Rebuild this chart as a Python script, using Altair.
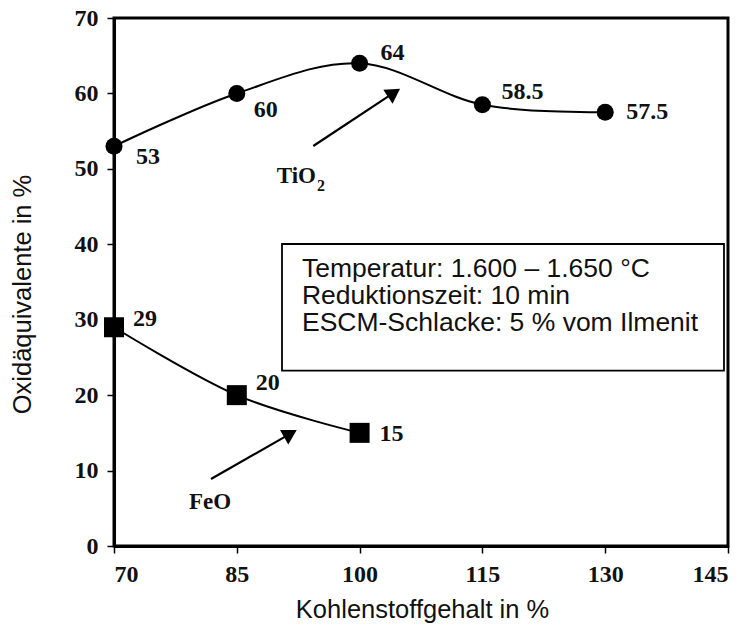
import altair as alt
import pandas as pd

# Carbon content (x) and oxide equivalents (y)
carbon_tio2 = [70, 85, 100, 115, 130]
tio2 = [53, 60, 64, 58.5, 57.5]
carbon_feo = [70, 85, 100]
feo = [29, 20, 15]

# Placement of value labels, pixels relative to each point
tio2_dx = [34, 29, 33, 40, 42]
tio2_dy = [11, 17, -10, -13, 0]
feo_dx = [31, 31, 32]
feo_dy = [-8, -12, 1]

x_ticks = [70, 85, 100, 115, 130, 145]
y_ticks = [0, 10, 20, 30, 40, 50, 60, 70]

conditions = [
    "Temperatur: 1.600 – 1.650 °C",
    "Reduktionszeit: 10 min",
    "ESCM-Schlacke: 5 % vom Ilmenit",
]

SERIF = "Liberation Serif"
SANS = "Liberation Sans"

tio2_df = pd.DataFrame({"x": carbon_tio2, "y": tio2, "label": [f"{v:g}" for v in tio2]})
feo_df = pd.DataFrame({"x": carbon_feo, "y": feo, "label": [f"{v:g}" for v in feo]})

xs = alt.Scale(domain=[70, 145], nice=False, zero=False)
ys = alt.Scale(domain=[0, 70], nice=False)

x_axis = alt.Axis(
    values=x_ticks, title="Kohlenstoffgehalt in %", grid=False,
    titleX=308, titleY=71, titleBaseline="alphabetic", titleAnchor="middle",
)
y_axis = alt.Axis(
    values=y_ticks, title="Oxidäquivalente in %", grid=False,
    titleX=-92, titleY=276, titleBaseline="middle", titleAngle=-90,
)

X = alt.X("x:Q", scale=xs, axis=x_axis)
Y = alt.Y("y:Q", scale=ys, axis=y_axis)
Xn = alt.X("x:Q", scale=xs)
Yn = alt.Y("y:Q", scale=ys)

# Info box with the test conditions
box_df = pd.DataFrame({"x": [90.52], "x2": [144.51], "y": [40.04], "y2": [23.24]})
box = alt.Chart(box_df).mark_rect(fill="white", stroke="black", strokeWidth=1.8).encode(
    x=X, x2="x2:Q", y=Y, y2="y2:Q"
)
box_text_df = pd.DataFrame({"x": [92.96] * 3, "y": [35.7, 32.1, 28.45], "t": conditions})
box_text = alt.Chart(box_text_df).mark_text(
    font=SANS, fontSize=26.5, align="left", baseline="alphabetic", color="#111"
).encode(x=Xn, y=Yn, text="t:N")

# Smoothed curves
tio2_line = alt.Chart(tio2_df).mark_line(
    color="black", strokeWidth=2, interpolate="cardinal"
).encode(x=Xn, y=Yn)
feo_line = alt.Chart(feo_df).mark_line(
    color="black", strokeWidth=2, interpolate="cardinal"
).encode(x=Xn, y=Yn)

tio2_pts = alt.Chart(tio2_df).mark_point(
    shape="circle", filled=True, color="black", size=290, opacity=1
).encode(x=Xn, y=Yn)
feo_pts = alt.Chart(feo_df).mark_point(
    shape="square", filled=True, color="black", size=400, opacity=1
).encode(x=Xn, y=Yn)

label_style = dict(font=SERIF, fontSize=24, fontWeight="bold", color="#111",
                   align="center", baseline="middle")


def value_labels(df, dxs, dys):
    layers = []
    for i in range(len(df)):
        layers.append(
            alt.Chart(df.iloc[[i]]).mark_text(dx=dxs[i], dy=dys[i], **label_style)
            .encode(x=Xn, y=Yn, text="label:N")
        )
    return layers


# Pointer arrows to the curves
arrow_shafts = pd.DataFrame({
    "arrow": ["TiO2", "TiO2", "FeO", "FeO"],
    "x": [94.34, 104.2, 81.85, 91.55],
    "y": [53.03, 60.1, 8.88, 14.9],
})
arrow_heads = pd.DataFrame({
    "x": [104.2, 91.55], "y": [60.1, 14.9], "angle": [56.6, 60.3],
})
shafts = alt.Chart(arrow_shafts).mark_line(color="black", strokeWidth=2.2).encode(
    x=Xn, y=Yn, detail="arrow:N"
)
heads = alt.Chart(arrow_heads).mark_point(
    shape="triangle-up", filled=True, color="black", size=280, opacity=1
).encode(x=Xn, y=Yn, angle=alt.Angle("angle:Q", scale=None))

name_style = dict(font=SERIF, fontSize=23, fontWeight="bold", color="#111", baseline="middle")
tio_df = pd.DataFrame({"x": [70 + (316 - 114) * 75 / 614], "y": [70 - (176 - 18) * 70 / 528], "t": ["TiO"]})
sub_df = pd.DataFrame({"x": [70 + (317 - 114) * 75 / 614], "y": [70 - (186 - 18) * 70 / 528], "t": ["2"]})
feo_name_df = pd.DataFrame({"x": [70 + (210 - 114) * 75 / 614], "y": [70 - (502 - 18) * 70 / 528], "t": ["FeO"]})
tio_name = alt.Chart(tio_df).mark_text(align="right", **name_style).encode(x=Xn, y=Yn, text="t:N")
tio_sub = alt.Chart(sub_df).mark_text(
    align="left", font=SERIF, fontSize=16, fontWeight="bold", color="#111", baseline="middle"
).encode(x=Xn, y=Yn, text="t:N")
feo_name = alt.Chart(feo_name_df).mark_text(align="center", **name_style).encode(x=Xn, y=Yn, text="t:N")

chart = alt.layer(
    box, box_text, tio2_line, feo_line, shafts, heads, tio2_pts, feo_pts,
    *value_labels(tio2_df, tio2_dx, tio2_dy),
    *value_labels(feo_df, feo_dx, feo_dy),
    tio_name, tio_sub, feo_name,
).properties(
    width=614, height=528,
    padding={"left": 114, "top": 18, "right": 20, "bottom": 82},
    autosize=alt.AutoSizeParams(type="none"),
    background="white",
).configure_view(
    stroke="black", strokeWidth=3
).configure_axis(
    domainColor="black", domainWidth=3,
    tickColor="black", tickWidth=1.5, tickSize=7,
    labelFont=SERIF, labelFontWeight="bold", labelFontSize=24, labelColor="#111",
    titleFont=SANS, titleFontWeight="normal", titleFontSize=25.5, titleColor="#111",
).configure_axisX(
    labelPadding=9
).configure_axisY(
    labelPadding=9
)

chart.save("out.html", embed_options={"renderer": "svg", "actions": False})
